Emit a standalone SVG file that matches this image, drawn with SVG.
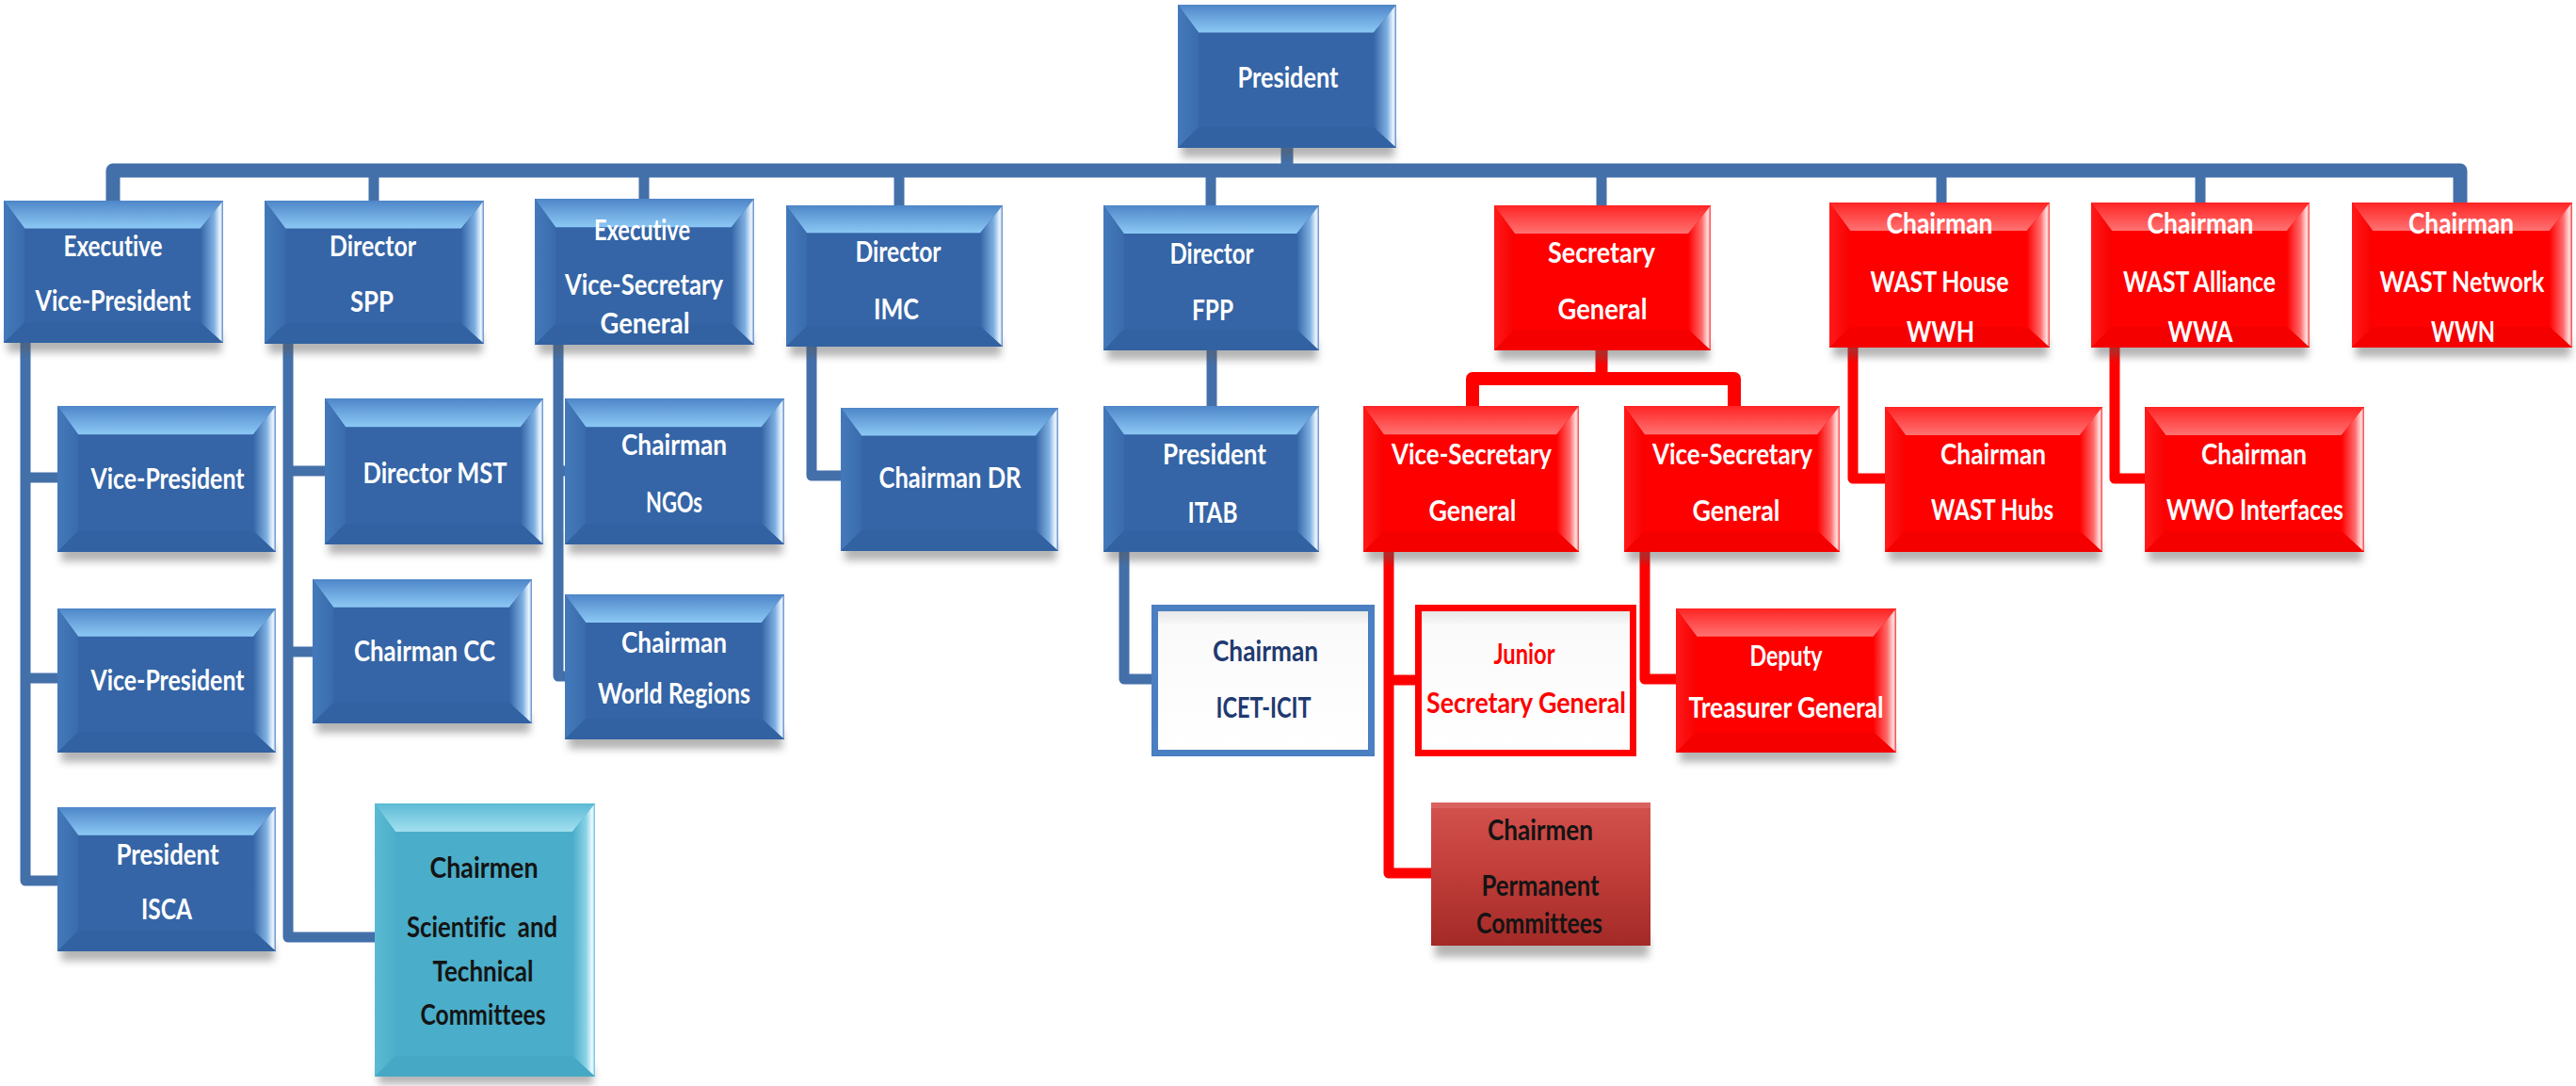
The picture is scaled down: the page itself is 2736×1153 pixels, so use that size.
<svg xmlns="http://www.w3.org/2000/svg" xmlns:xlink="http://www.w3.org/1999/xlink" width="2736" height="1153" viewBox="0 0 2736 1153">
<defs>
<style>
.cb{fill:none;stroke:#4470AA;stroke-width:11;stroke-linejoin:round;stroke-linecap:butt}
.cr{fill:none;stroke:#FF0000;stroke-width:11;stroke-linejoin:round;stroke-linecap:butt}
.sh{fill:#5a5a5a;opacity:.45;filter:url(#blur)}
text{font-family:Lato,"Open Sans","Liberation Sans",sans-serif;font-weight:bold;font-size:30px;text-anchor:middle;font-variant-ligatures:none}
.tw{fill:#ffffff}
.td{fill:#141414}
.tn{fill:#1F3A70}
.tr{fill:#FF0000}
</style>
<filter id="blur" x="-10%" y="-50%" width="120%" height="200%"><feGaussianBlur stdDeviation="4"/></filter>
<linearGradient id="gBT" x1="0" y1="0" x2="0" y2="1"><stop offset="0" stop-color="#4E86C8"/><stop offset="1" stop-color="#8CC8F5"/></linearGradient>
<linearGradient id="gBL" x1="0" y1="0" x2="1" y2="0"><stop offset="0" stop-color="#4379BA"/><stop offset="1" stop-color="#3A6CAD"/></linearGradient>
<linearGradient id="gBR" x1="1" y1="0" x2="0" y2="0"><stop offset="0" stop-color="#5A8ACB"/><stop offset="0.12" stop-color="#F2F9FF"/><stop offset="0.4" stop-color="#7FB0E2"/><stop offset="1" stop-color="#3565A6"/></linearGradient>
<linearGradient id="gRT" x1="0" y1="0" x2="0" y2="1"><stop offset="0" stop-color="#FF2424"/><stop offset="1" stop-color="#FF7272"/></linearGradient>
<linearGradient id="gRL" x1="0" y1="0" x2="1" y2="0"><stop offset="0" stop-color="#FF1A1A"/><stop offset="1" stop-color="#F80000"/></linearGradient>
<linearGradient id="gRR" x1="1" y1="0" x2="0" y2="0"><stop offset="0" stop-color="#FF3A3A"/><stop offset="0.12" stop-color="#FFE4E4"/><stop offset="0.4" stop-color="#FF6A6A"/><stop offset="1" stop-color="#FF0000"/></linearGradient>
<linearGradient id="gTT" x1="0" y1="0" x2="0" y2="1"><stop offset="0" stop-color="#5CBAD4"/><stop offset="1" stop-color="#A2E0F0"/></linearGradient>
<linearGradient id="gTL" x1="0" y1="0" x2="1" y2="0"><stop offset="0" stop-color="#5BBAD3"/><stop offset="1" stop-color="#4DAFCA"/></linearGradient>
<linearGradient id="gTR" x1="1" y1="0" x2="0" y2="0"><stop offset="0" stop-color="#6CC2D9"/><stop offset="0.12" stop-color="#F0FCFF"/><stop offset="0.4" stop-color="#8AD2E6"/><stop offset="1" stop-color="#4AADC9"/></linearGradient>
<linearGradient id="gPC" x1="0" y1="0" x2="0" y2="1"><stop offset="0" stop-color="#D4524D"/><stop offset="0.5" stop-color="#C03D39"/><stop offset="1" stop-color="#A32A27"/></linearGradient>
<linearGradient id="gWB" x1="0" y1="0" x2="0" y2="1"><stop offset="0" stop-color="#E2E2E2"/><stop offset="0.12" stop-color="#FAFAFA"/><stop offset="1" stop-color="#FFFFFF"/></linearGradient>
<symbol id="bBlue" viewBox="0 0 232 154" preserveAspectRatio="none">
<rect width="232" height="154" fill="#3565A6"/>
<polygon points="0,0 232,0 208,30 22,30" fill="url(#gBT)"/>
<polygon points="0,0 22,30 22,132 0,154" fill="url(#gBL)"/>
<polygon points="232,0 232,154 208,132 208,30" fill="url(#gBR)"/>
<polygon points="0,154 22,132 208,132 232,154" fill="#3262A2"/>
</symbol>
<symbol id="bRed" viewBox="0 0 232 154" preserveAspectRatio="none">
<rect width="232" height="154" fill="#FF0000"/>
<polygon points="0,0 232,0 208,30 22,30" fill="url(#gRT)"/>
<polygon points="0,0 22,30 22,132 0,154" fill="url(#gRL)"/>
<polygon points="232,0 232,154 208,132 208,30" fill="url(#gRR)"/>
<polygon points="0,154 22,132 208,132 232,154" fill="#F50000"/>
</symbol>
<symbol id="bTeal" viewBox="0 0 234 290" preserveAspectRatio="none">
<rect width="234" height="290" fill="#4AADC9"/>
<polygon points="0,0 234,0 210,30 22,30" fill="url(#gTT)"/>
<polygon points="0,0 22,30 22,268 0,290" fill="url(#gTL)"/>
<polygon points="234,0 234,290 210,268 210,30" fill="url(#gTR)"/>
<polygon points="0,290 22,268 210,268 234,290" fill="#46A8C4"/>
</symbol>
</defs>
<rect width="2736" height="1153" fill="#ffffff"/>

<g id="connectors">
<path class="cb" d="M1367 150 V182" style="stroke-width:13"/>
<path class="cb" d="M120 213 V181 H2613 V215" style="stroke-width:15"/>
<path class="cb" d="M397 181 V213 M684 181 V211 M955 181 V218 M1286 181 V218 M1701 181 V218 M2062 181 V215 M2337 181 V215"/>
<path class="cb" d="M27 360 V935 H61 M27 507 H61 M27 720 H61"/>
<path class="cb" d="M306 360 V995 H398 M306 500 H345 M306 692 H332"/>
<path class="cb" d="M593 360 V718 H600 M593 500 H600"/>
<path class="cb" d="M862 362 V505 H893"/>
<path class="cb" d="M1287 366 V431"/>
<path class="cb" d="M1194 580 V721 H1223"/>
<path class="cr" d="M1701 366 V402" style="stroke-width:13"/>
<path class="cr" d="M1564 431 V402 H1842 V431" style="stroke-width:14"/>
<path class="cr" d="M1475 580 V927 H1520 M1475 722 H1503"/>
<path class="cr" d="M1747 580 V721 H1780"/>
<path class="cr" d="M1968 364 V508 H2002"/>
<path class="cr" d="M2246 364 V508 H2278"/>
</g>

<g id="president"><rect class="sh" x="1255" y="147" width="226" height="20"/><use xlink:href="#bBlue" x="1251" y="5" width="232" height="152"/><text class="tw" x="1368" y="93" textLength="107" lengthAdjust="spacingAndGlyphs">President</text></g>

<g id="exec-vice-president"><rect class="sh" x="8" y="354" width="227" height="20"/><use xlink:href="#bBlue" x="4" y="213" width="233" height="151"/><text class="tw" x="120" y="272" textLength="105" lengthAdjust="spacingAndGlyphs">Executive</text><text class="tw" x="120" y="330" textLength="165" lengthAdjust="spacingAndGlyphs">Vice-President</text></g>

<g id="director-spp"><rect class="sh" x="285" y="355" width="227" height="20"/><use xlink:href="#bBlue" x="281" y="213" width="233" height="152"/><text class="tw" x="396" y="272" textLength="92" lengthAdjust="spacingAndGlyphs">Director</text><text class="tw" x="395" y="331" textLength="46" lengthAdjust="spacingAndGlyphs">SPP</text></g>

<g id="exec-vice-secretary-general"><rect class="sh" x="572" y="356" width="227" height="20"/><use xlink:href="#bBlue" x="568" y="211" width="233" height="155"/><text class="tw" x="682" y="255" textLength="102" lengthAdjust="spacingAndGlyphs">Executive</text><text class="tw" x="684" y="313" textLength="168" lengthAdjust="spacingAndGlyphs">Vice-Secretary</text><text class="tw" x="685" y="354" textLength="95" lengthAdjust="spacingAndGlyphs">General</text></g>

<g id="director-imc"><rect class="sh" x="839" y="358" width="224" height="20"/><use xlink:href="#bBlue" x="835" y="218" width="230" height="150"/><text class="tw" x="954" y="278" textLength="91" lengthAdjust="spacingAndGlyphs">Director</text><text class="tw" x="952" y="339" textLength="48" lengthAdjust="spacingAndGlyphs">IMC</text></g>

<g id="director-fpp"><rect class="sh" x="1176" y="362" width="223" height="20"/><use xlink:href="#bBlue" x="1172" y="218" width="229" height="154"/><text class="tw" x="1287" y="280" textLength="89" lengthAdjust="spacingAndGlyphs">Director</text><text class="tw" x="1288" y="340" textLength="44" lengthAdjust="spacingAndGlyphs">FPP</text></g>

<g id="secretary-general"><rect class="sh" x="1591" y="362" width="224" height="20"/><use xlink:href="#bRed" x="1587" y="218" width="230" height="154"/><text class="tw" x="1701" y="279" textLength="114" lengthAdjust="spacingAndGlyphs">Secretary</text><text class="tw" x="1702" y="339" textLength="95" lengthAdjust="spacingAndGlyphs">General</text></g>

<g id="chairman-wwh"><rect class="sh" x="1947" y="359" width="228" height="20"/><use xlink:href="#bRed" x="1943" y="215" width="234" height="154"/><text class="tw" x="2060" y="248" textLength="113" lengthAdjust="spacingAndGlyphs">Chairman</text><text class="tw" x="2060" y="310" textLength="147" lengthAdjust="spacingAndGlyphs">WAST House</text><text class="tw" x="2061" y="363" textLength="72" lengthAdjust="spacingAndGlyphs">WWH</text></g>

<g id="chairman-wwa"><rect class="sh" x="2225" y="359" width="226" height="20"/><use xlink:href="#bRed" x="2221" y="215" width="232" height="154"/><text class="tw" x="2337" y="248" textLength="113" lengthAdjust="spacingAndGlyphs">Chairman</text><text class="tw" x="2336" y="310" textLength="162" lengthAdjust="spacingAndGlyphs">WAST Alliance</text><text class="tw" x="2337" y="363" textLength="69" lengthAdjust="spacingAndGlyphs">WWA</text></g>

<g id="chairman-wwn"><rect class="sh" x="2502" y="359" width="228" height="20"/><use xlink:href="#bRed" x="2498" y="215" width="234" height="154"/><text class="tw" x="2614" y="248" textLength="112" lengthAdjust="spacingAndGlyphs">Chairman</text><text class="tw" x="2615" y="310" textLength="175" lengthAdjust="spacingAndGlyphs">WAST Network</text><text class="tw" x="2616" y="363" textLength="68" lengthAdjust="spacingAndGlyphs">WWN</text></g>

<g id="vice-president-1"><rect class="sh" x="65" y="576" width="226" height="20"/><use xlink:href="#bBlue" x="61" y="431" width="232" height="155"/><text class="tw" x="178" y="519" textLength="163" lengthAdjust="spacingAndGlyphs">Vice-President</text></g>

<g id="director-mst"><rect class="sh" x="349" y="568" width="226" height="20"/><use xlink:href="#bBlue" x="345" y="423" width="232" height="155"/><text class="tw" x="462" y="513" textLength="153" lengthAdjust="spacingAndGlyphs">Director MST</text></g>

<g id="chairman-ngos"><rect class="sh" x="604" y="568" width="227" height="20"/><use xlink:href="#bBlue" x="600" y="423" width="233" height="155"/><text class="tw" x="716" y="483" textLength="112" lengthAdjust="spacingAndGlyphs">Chairman</text><text class="tw" x="716" y="544" textLength="60" lengthAdjust="spacingAndGlyphs">NGOs</text></g>

<g id="chairman-dr"><rect class="sh" x="897" y="575" width="225" height="20"/><use xlink:href="#bBlue" x="893" y="433" width="231" height="152"/><text class="tw" x="1009" y="518" textLength="151" lengthAdjust="spacingAndGlyphs">Chairman DR</text></g>

<g id="president-itab"><rect class="sh" x="1176" y="576" width="223" height="20"/><use xlink:href="#bBlue" x="1172" y="431" width="229" height="155"/><text class="tw" x="1290" y="493" textLength="110" lengthAdjust="spacingAndGlyphs">President</text><text class="tw" x="1288" y="555" textLength="53" lengthAdjust="spacingAndGlyphs">ITAB</text></g>

<g id="vice-secretary-general-1"><rect class="sh" x="1452" y="576" width="223" height="20"/><use xlink:href="#bRed" x="1448" y="431" width="229" height="155"/><text class="tw" x="1563" y="493" textLength="170" lengthAdjust="spacingAndGlyphs">Vice-Secretary</text><text class="tw" x="1564" y="553" textLength="93" lengthAdjust="spacingAndGlyphs">General</text></g>

<g id="vice-secretary-general-2"><rect class="sh" x="1729" y="576" width="223" height="20"/><use xlink:href="#bRed" x="1725" y="431" width="229" height="155"/><text class="tw" x="1840" y="493" textLength="170" lengthAdjust="spacingAndGlyphs">Vice-Secretary</text><text class="tw" x="1844" y="553" textLength="93" lengthAdjust="spacingAndGlyphs">General</text></g>

<g id="chairman-wast-hubs"><rect class="sh" x="2006" y="576" width="225" height="20"/><use xlink:href="#bRed" x="2002" y="432" width="231" height="154"/><text class="tw" x="2117" y="493" textLength="112" lengthAdjust="spacingAndGlyphs">Chairman</text><text class="tw" x="2116" y="552" textLength="130" lengthAdjust="spacingAndGlyphs">WAST Hubs</text></g>

<g id="chairman-wwo-interfaces"><rect class="sh" x="2282" y="576" width="227" height="20"/><use xlink:href="#bRed" x="2278" y="432" width="233" height="154"/><text class="tw" x="2394" y="493" textLength="112" lengthAdjust="spacingAndGlyphs">Chairman</text><text class="tw" x="2395" y="552" textLength="188" lengthAdjust="spacingAndGlyphs">WWO Interfaces</text></g>

<g id="vice-president-2"><rect class="sh" x="65" y="789" width="226" height="20"/><use xlink:href="#bBlue" x="61" y="646" width="232" height="153"/><text class="tw" x="178" y="733" textLength="163" lengthAdjust="spacingAndGlyphs">Vice-President</text></g>

<g id="chairman-cc"><rect class="sh" x="336" y="758" width="227" height="20"/><use xlink:href="#bBlue" x="332" y="615" width="233" height="153"/><text class="tw" x="451" y="702" textLength="150" lengthAdjust="spacingAndGlyphs">Chairman CC</text></g>

<g id="chairman-world-regions"><rect class="sh" x="604" y="775" width="227" height="20"/><use xlink:href="#bBlue" x="600" y="631" width="233" height="154"/><text class="tw" x="716" y="693" textLength="112" lengthAdjust="spacingAndGlyphs">Chairman</text><text class="tw" x="716" y="747" textLength="162" lengthAdjust="spacingAndGlyphs">World Regions</text></g>

<g id="chairman-icet-icit"><rect x="1226.5" y="645.5" width="230" height="154" fill="url(#gWB)" stroke="#4A7FC1" stroke-width="7"/><text class="tn" x="1344" y="702" textLength="112" lengthAdjust="spacingAndGlyphs">Chairman</text><text class="tn" x="1342" y="762" textLength="101" lengthAdjust="spacingAndGlyphs">ICET-ICIT</text></g>

<g id="junior-secretary-general"><rect x="1506.5" y="645.5" width="228" height="154" fill="url(#gWB)" stroke="#FF0000" stroke-width="7"/><text class="tr" x="1619" y="705" textLength="65" lengthAdjust="spacingAndGlyphs">Junior</text><text class="tr" x="1621" y="757" textLength="212" lengthAdjust="spacingAndGlyphs">Secretary General</text></g>

<g id="deputy-treasurer-general"><rect class="sh" x="1784" y="789" width="228" height="20"/><use xlink:href="#bRed" x="1780" y="646" width="234" height="153"/><text class="tw" x="1897" y="707" textLength="77" lengthAdjust="spacingAndGlyphs">Deputy</text><text class="tw" x="1897" y="762" textLength="207" lengthAdjust="spacingAndGlyphs">Treasurer General</text></g>

<g id="president-isca"><rect class="sh" x="65" y="1000" width="226" height="20"/><use xlink:href="#bBlue" x="61" y="857" width="232" height="153"/><text class="tw" x="178" y="918" textLength="109" lengthAdjust="spacingAndGlyphs">President</text><text class="tw" x="177" y="976" textLength="54" lengthAdjust="spacingAndGlyphs">ISCA</text></g>

<g id="chairmen-scientific-technical-committees"><rect class="sh" x="402" y="1133" width="228" height="18"/><use xlink:href="#bTeal" x="398" y="853" width="234" height="290"/><text class="td" x="514" y="932" textLength="115" lengthAdjust="spacingAndGlyphs">Chairmen</text><text class="td" x="512" y="995" textLength="160" lengthAdjust="spacingAndGlyphs" xml:space="preserve">Scientific  and</text><text class="td" x="513" y="1042" textLength="107" lengthAdjust="spacingAndGlyphs">Technical</text><text class="td" x="513" y="1088" textLength="133" lengthAdjust="spacingAndGlyphs">Committees</text></g>

<g id="chairmen-permanent-committees"><rect class="sh" x="1524" y="994" width="227" height="22"/><rect x="1520" y="852" width="233" height="152" fill="url(#gPC)"/><rect x="1520" y="852" width="233" height="6" fill="#DC6A66" opacity=".7"/><text class="td" x="1636" y="892" textLength="112" lengthAdjust="spacingAndGlyphs">Chairmen</text><text class="td" x="1636" y="951" textLength="125" lengthAdjust="spacingAndGlyphs">Permanent</text><text class="td" x="1635" y="991" textLength="134" lengthAdjust="spacingAndGlyphs">Committees</text></g>
</svg>
